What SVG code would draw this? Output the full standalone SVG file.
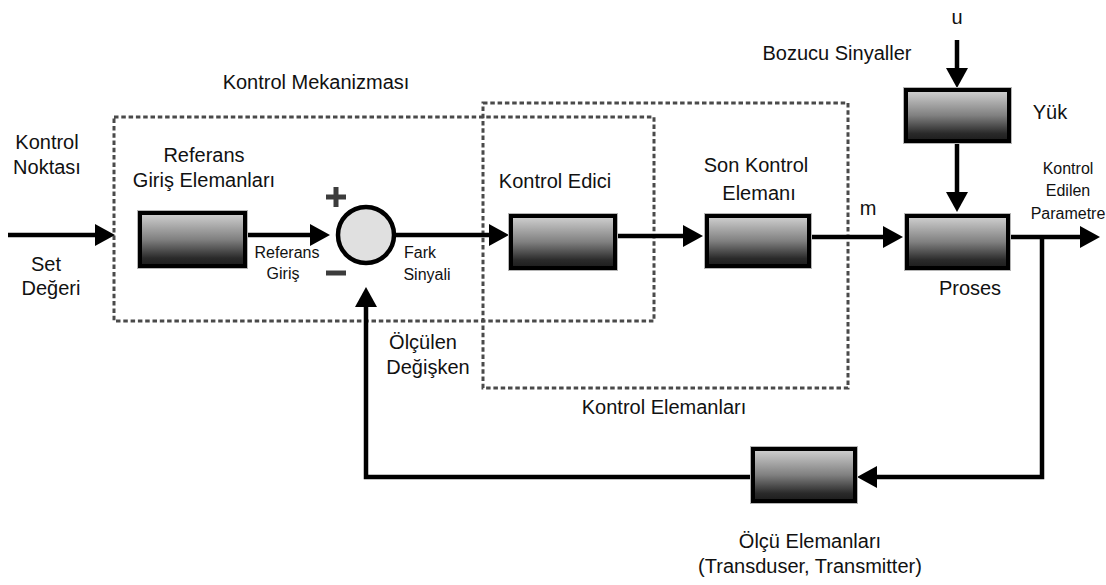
<svg xmlns="http://www.w3.org/2000/svg" width="1106" height="585" viewBox="0 0 1106 585">
<style>
  text{font-family:"Liberation Sans",Arial,sans-serif;fill:#111;text-anchor:middle}
  .lg{font-size:20px}
  .sm{font-size:16px}
  .blk{fill:url(#g);stroke:#000;stroke-width:4}
  .edge{fill:none;stroke:#b5b5b5;stroke-width:1}
  .ln{fill:none;stroke:#000;stroke-width:4.5}
  .dot{fill:none;stroke:#4a4a4a;stroke-width:3;stroke-dasharray:4.5 2.8}
  .sign{stroke:#3c3c3c;stroke-width:5}
</style>
<defs>
  <linearGradient id="g" x1="0" y1="0" x2="0" y2="1">
    <stop offset="0" stop-color="#d2d2d2"/>
    <stop offset="0.5" stop-color="#808080"/>
    <stop offset="0.85" stop-color="#2a2a2a"/>
    <stop offset="1" stop-color="#1c1c1c"/>
  </linearGradient>
  <marker id="ah" markerUnits="userSpaceOnUse" markerWidth="22" markerHeight="22" refX="8" refY="11" orient="auto">
    <path d="M0,0 L20,11 L0,22 z" fill="#000"/>
  </marker>
</defs>

<g id="mekanizma-frame">
  <rect class="dot" x="114" y="117" width="540" height="204"/>
  <text class="lg" x="316" y="89">Kontrol Mekanizması</text>
</g>
<g id="elemanlar-frame">
  <rect class="dot" x="483" y="103" width="365" height="285"/>
  <text class="lg" x="664" y="414">Kontrol Elemanları</text>
</g>

<g id="connectors">
  <path class="ln" d="M8,235 H103" marker-end="url(#ah)"/>
  <path class="ln" d="M247,235 H318" marker-end="url(#ah)"/>
  <path class="ln" d="M396,235 H497" marker-end="url(#ah)"/>
  <path class="ln" d="M617,236 H691" marker-end="url(#ah)"/>
  <path class="ln" d="M811,237 H891" marker-end="url(#ah)"/>
  <path class="ln" d="M1010,237 H1088" marker-end="url(#ah)"/>
  <path class="ln" d="M957,40 V76" marker-end="url(#ah)"/>
  <path class="ln" d="M957,143 V200" marker-end="url(#ah)"/>
  <path class="ln" d="M1042,237 V477 H869" marker-end="url(#ah)"/>
  <path class="ln" d="M751,477 H366 V299" marker-end="url(#ah)"/>
</g>

<g id="input">
  <text class="lg" x="47" y="149">Kontrol</text>
  <text class="lg" x="47" y="174">Noktası</text>
  <text class="lg" x="46" y="271">Set</text>
  <text class="lg" x="51" y="295">Değeri</text>
</g>

<g id="referans-giris">
  <rect class="edge" x="137.5" y="210.5" width="110" height="58"/>
  <rect class="blk" x="140" y="213" width="105" height="53"/>
  <text class="lg" x="204" y="162">Referans</text>
  <text class="lg" x="204" y="187">Giriş Elemanları</text>
  <text class="sm" x="287" y="258">Referans</text>
  <text class="sm" x="283" y="279">Giriş</text>
</g>

<g id="toplama">
  <circle cx="366" cy="235" r="28" fill="#e0e0e0" stroke="#000" stroke-width="4.5"/>
  <path class="sign" d="M326,197 H346 M336,187 V207"/>
  <path class="sign" d="M326,273 H346"/>
  <text class="sm" x="420" y="258">Fark</text>
  <text class="sm" x="427" y="280">Sinyali</text>
  <text class="lg" x="423" y="349">Ölçülen</text>
  <text class="lg" x="428" y="374">Değişken</text>
</g>

<g id="kontrol-edici">
  <rect class="edge" x="508.5" y="213.5" width="109" height="57"/>
  <rect class="blk" x="511" y="216" width="104" height="52"/>
  <text class="lg" x="555" y="188">Kontrol Edici</text>
</g>

<g id="son-kontrol">
  <rect class="edge" x="704.5" y="213.5" width="107" height="55"/>
  <rect class="blk" x="707" y="216" width="102" height="50"/>
  <text class="lg" x="756" y="172">Son Kontrol</text>
  <text class="lg" x="759" y="200">Elemanı</text>
  <text class="lg" x="868" y="215">m</text>
</g>

<g id="yuk">
  <rect class="edge" x="903.5" y="87.5" width="108" height="56"/>
  <rect class="blk" x="906" y="90" width="103" height="51"/>
  <text class="lg" x="957" y="24">u</text>
  <text class="lg" x="837" y="60">Bozucu Sinyaller</text>
  <text class="lg" x="1050" y="119">Yük</text>
</g>

<g id="proses">
  <rect class="edge" x="904.5" y="213.5" width="106" height="57"/>
  <rect class="blk" x="907" y="216" width="101" height="52"/>
  <text class="lg" x="970" y="295">Proses</text>
  <text class="sm" x="1068" y="174">Kontrol</text>
  <text class="sm" x="1068" y="196">Edilen</text>
  <text class="sm" x="1068" y="219">Parametre</text>
</g>

<g id="olcu">
  <rect class="edge" x="750.5" y="446.5" width="107" height="57"/>
  <rect class="blk" x="753" y="449" width="102" height="52"/>
  <text class="lg" x="810" y="548">Ölçü Elemanları</text>
  <text class="lg" x="810" y="573">(Transduser, Transmitter)</text>
</g>
</svg>
